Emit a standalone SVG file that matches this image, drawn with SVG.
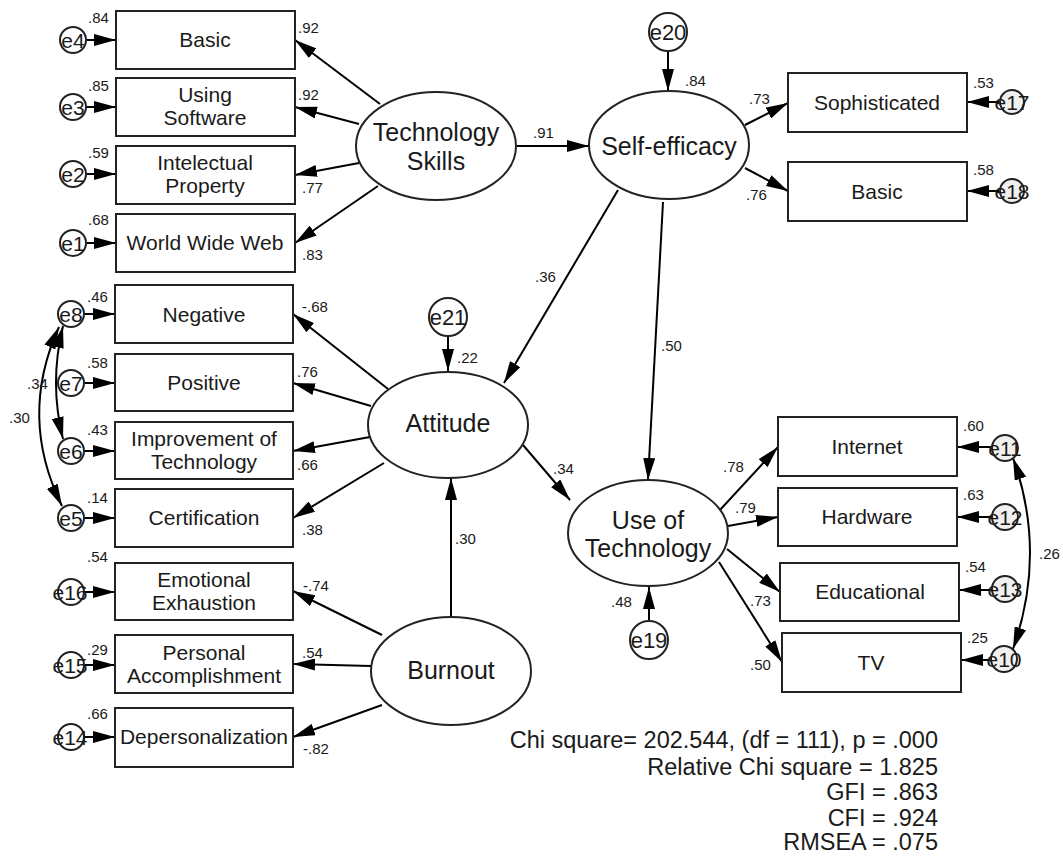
<svg xmlns="http://www.w3.org/2000/svg" width="1063" height="856" viewBox="0 0 1063 856">
<defs>
<marker id="ah" viewBox="0 0 22 12" refX="22" refY="6" markerWidth="22" markerHeight="12" orient="auto-start-reverse" markerUnits="userSpaceOnUse"><path d="M0,0 L22,6 L0,12 z" fill="#000"/></marker>
<style>
.box{fill:#fff;stroke:#222;stroke-width:2}
.lat{fill:#fff;stroke:#222;stroke-width:2}
.err{fill:#fff;stroke:#222;stroke-width:2}
.err2{fill:#f0f0f0;stroke:#222;stroke-width:2}
.c{fill:none;stroke:#000;stroke-width:2;marker-end:url(#ah)}
.cv{fill:none;stroke:#000;stroke-width:2;marker-end:url(#ah);marker-start:url(#ah)}
text{font-family:"Liberation Sans",Arial,sans-serif;fill:#1a1a1a}
.bt{font-size:21px;text-anchor:middle}
.lt{font-size:25px;text-anchor:middle}
.et{font-size:21px;text-anchor:middle}
.eb{font-size:22px;text-anchor:middle}
.n{font-size:15px}
.fit{font-size:23.5px;text-anchor:end}
</style>
</defs>
<rect width="1063" height="856" fill="#fff"/>
<g id="connectors">
<line class="c" x1="86" y1="40" x2="116" y2="40"/>
<line class="c" x1="86" y1="107" x2="116" y2="107"/>
<line class="c" x1="86" y1="174" x2="116" y2="174"/>
<line class="c" x1="86" y1="243" x2="116" y2="243"/>
<line class="c" x1="84" y1="314" x2="115" y2="314"/>
<line class="c" x1="84" y1="383" x2="115" y2="383"/>
<line class="c" x1="84" y1="451" x2="115" y2="451"/>
<line class="c" x1="84" y1="518" x2="115" y2="518"/>
<line class="c" x1="84" y1="592" x2="115" y2="592"/>
<line class="c" x1="84" y1="665" x2="115" y2="665"/>
<line class="c" x1="84" y1="737" x2="115" y2="737"/>
<line class="c" x1="999" y1="102" x2="967" y2="102"/>
<line class="c" x1="999" y1="191" x2="967" y2="191"/>
<line class="c" x1="992" y1="447" x2="957" y2="447"/>
<line class="c" x1="992" y1="517" x2="957" y2="517"/>
<line class="c" x1="992" y1="590" x2="959" y2="590"/>
<line class="c" x1="992" y1="660" x2="961" y2="660"/>
<line class="c" x1="668" y1="51" x2="668" y2="91"/>
<line class="c" x1="448" y1="336" x2="448" y2="371"/>
<line class="c" x1="649" y1="621" x2="649" y2="587"/>
<line class="c" x1="380" y1="104" x2="295" y2="40"/>
<line class="c" x1="359" y1="124" x2="295" y2="107"/>
<line class="c" x1="359" y1="163" x2="295" y2="175"/>
<line class="c" x1="378" y1="186" x2="295" y2="243"/>
<line class="c" x1="388" y1="389" x2="293" y2="314"/>
<line class="c" x1="371" y1="406" x2="293" y2="383"/>
<line class="c" x1="370" y1="437" x2="293" y2="451"/>
<line class="c" x1="384" y1="463" x2="293" y2="518"/>
<line class="c" x1="382" y1="635" x2="293" y2="591"/>
<line class="c" x1="371" y1="666" x2="293" y2="664"/>
<line class="c" x1="382" y1="705" x2="293" y2="737"/>
<line class="c" x1="517" y1="146" x2="589" y2="146"/>
<line class="c" x1="618" y1="190" x2="504" y2="383"/>
<line class="c" x1="663" y1="202" x2="648" y2="480"/>
<line class="c" x1="523" y1="445" x2="570" y2="500"/>
<line class="c" x1="451" y1="617" x2="451" y2="478"/>
<line class="c" x1="745" y1="125" x2="788" y2="103"/>
<line class="c" x1="745" y1="168" x2="788" y2="191"/>
<line class="c" x1="720" y1="510" x2="778" y2="447"/>
<line class="c" x1="728" y1="526" x2="778" y2="517"/>
<line class="c" x1="727" y1="549" x2="780" y2="592"/>
<line class="c" x1="719" y1="562" x2="782" y2="662"/>
<path class="cv" d="M63,326 Q49,383 63,439"/>
<path class="cv" d="M59,327 Q18,417 62,506"/>
<path class="cv" d="M1013,458 Q1047,553 1013,649"/>
</g>
<g id="e4"><circle class="err" cx="73" cy="40" r="13"/><text class="et" x="73" y="48">e4</text></g>
<g id="e3"><circle class="err" cx="73" cy="107" r="13"/><text class="et" x="73" y="115">e3</text></g>
<g id="e2"><circle class="err" cx="73" cy="174" r="13"/><text class="et" x="73" y="182">e2</text></g>
<g id="e1"><circle class="err" cx="73" cy="243" r="13"/><text class="et" x="73" y="251">e1</text></g>
<g id="e8"><circle class="err" cx="71" cy="314" r="13"/><text class="et" x="71" y="322">e8</text></g>
<g id="e7"><circle class="err" cx="71" cy="383" r="13"/><text class="et" x="71" y="391">e7</text></g>
<g id="e6"><circle class="err" cx="71" cy="451" r="13"/><text class="et" x="71" y="459">e6</text></g>
<g id="e5"><circle class="err" cx="71" cy="518" r="13"/><text class="et" x="71" y="526">e5</text></g>
<g id="e16"><circle class="err" cx="71" cy="592" r="13"/><text class="et" x="70" y="600">e16</text></g>
<g id="e15"><circle class="err" cx="71" cy="665" r="13"/><text class="et" x="70" y="673">e15</text></g>
<g id="e14"><circle class="err" cx="71" cy="737" r="13"/><text class="et" x="70" y="745">e14</text></g>
<g id="e17"><circle class="err2" cx="1012" cy="102" r="12"/><text class="et" x="1012" y="110">e17</text></g>
<g id="e18"><circle class="err2" cx="1012" cy="191" r="12"/><text class="et" x="1012" y="199">e18</text></g>
<g id="e11"><circle class="err2" cx="1005" cy="448" r="13"/><text class="et" x="1005" y="456">e11</text></g>
<g id="e12"><circle class="err2" cx="1005" cy="517" r="13"/><text class="et" x="1005" y="525">e12</text></g>
<g id="e13"><circle class="err2" cx="1005" cy="589" r="13"/><text class="et" x="1005" y="597">e13</text></g>
<g id="e10"><circle class="err2" cx="1004" cy="659" r="13"/><text class="et" x="1004" y="667">e10</text></g>
<g id="e20"><circle class="err" cx="668" cy="32" r="19"/><text class="eb" x="668" y="40">e20</text></g>
<g id="e21"><circle class="err" cx="448" cy="317" r="19"/><text class="eb" x="448" y="325">e21</text></g>
<g id="e19"><circle class="err" cx="649" cy="640" r="19"/><text class="eb" x="649" y="648">e19</text></g>

<g id="ts_basic"><rect class="box" x="116" y="11" width="179" height="58"/><text class="bt" x="205" y="47">Basic</text></g>
<g id="ts_software"><rect class="box" x="116" y="78" width="179" height="58"/><text class="bt" x="205" y="102">Using</text><text class="bt" x="205" y="125">Software</text></g>
<g id="ts_ip"><rect class="box" x="116" y="146" width="179" height="58"/><text class="bt" x="205" y="170">Intelectual</text><text class="bt" x="205" y="193">Property</text></g>
<g id="ts_www"><rect class="box" x="116" y="214" width="179" height="58"/><text class="bt" x="205" y="250">World Wide Web</text></g>

<g id="at_neg"><rect class="box" x="115" y="285" width="178" height="58"/><text class="bt" x="204" y="322">Negative</text></g>
<g id="at_pos"><rect class="box" x="115" y="354" width="178" height="57"/><text class="bt" x="204" y="390">Positive</text></g>
<g id="at_imp"><rect class="box" x="115" y="422" width="178" height="57"/><text class="bt" x="204" y="446">Improvement of</text><text class="bt" x="204" y="469">Technology</text></g>
<g id="at_cert"><rect class="box" x="115" y="489" width="178" height="58"/><text class="bt" x="204" y="525">Certification</text></g>

<g id="bo_ee"><rect class="box" x="115" y="563" width="178" height="57"/><text class="bt" x="204" y="587">Emotional</text><text class="bt" x="204" y="610">Exhaustion</text></g>
<g id="bo_pa"><rect class="box" x="115" y="635" width="178" height="58"/><text class="bt" x="204" y="660">Personal</text><text class="bt" x="204" y="683">Accomplishment</text></g>
<g id="bo_dp"><rect class="box" x="115" y="708" width="178" height="59"/><text class="bt" x="204" y="744">Depersonalization</text></g>

<g id="se_soph"><rect class="box" x="788" y="73" width="179" height="59"/><text class="bt" x="877" y="110">Sophisticated</text></g>
<g id="se_basic"><rect class="box" x="788" y="162" width="179" height="59"/><text class="bt" x="877" y="199">Basic</text></g>

<g id="ut_internet"><rect class="box" x="778" y="417" width="179" height="59"/><text class="bt" x="867" y="454">Internet</text></g>
<g id="ut_hardware"><rect class="box" x="778" y="488" width="179" height="58"/><text class="bt" x="867" y="524">Hardware</text></g>
<g id="ut_edu"><rect class="box" x="780" y="563" width="179" height="58"/><text class="bt" x="870" y="599">Educational</text></g>
<g id="ut_tv"><rect class="box" x="782" y="633" width="179" height="59"/><text class="bt" x="871" y="670">TV</text></g>

<g id="tech_skills"><ellipse class="lat" cx="436" cy="146" rx="80" ry="54"/><text class="lt" x="436" y="141">Technology</text><text class="lt" x="436" y="170">Skills</text></g>
<g id="self_efficacy"><ellipse class="lat" cx="669" cy="145" rx="80" ry="54"/><text class="lt" x="669" y="155">Self-efficacy</text></g>
<g id="attitude"><ellipse class="lat" cx="448" cy="425" rx="80" ry="53"/><text class="lt" x="448" y="432">Attitude</text></g>
<g id="use_tech"><ellipse class="lat" cx="648" cy="533" rx="80" ry="53"/><text class="lt" x="648" y="529">Use of</text><text class="lt" x="648" y="557">Technology</text></g>
<g id="burnout"><ellipse class="lat" cx="451" cy="671" rx="80" ry="54"/><text class="lt" x="451" y="679">Burnout</text></g>

<g id="labels">
<text class="n" x="88" y="23">.84</text><text class="n" x="298" y="33">.92</text>
<text class="n" x="88" y="91">.85</text><text class="n" x="298" y="100">.92</text>
<text class="n" x="88" y="158">.59</text><text class="n" x="302" y="193">.77</text>
<text class="n" x="88" y="225">.68</text><text class="n" x="302" y="260">.83</text>
<text class="n" x="87" y="302">.46</text><text class="n" x="302" y="312">-.68</text>
<text class="n" x="87" y="368">.58</text><text class="n" x="297" y="377">.76</text>
<text class="n" x="87" y="435">.43</text><text class="n" x="297" y="470">.66</text>
<text class="n" x="87" y="503">.14</text><text class="n" x="302" y="535">.38</text>
<text class="n" x="27" y="389">.34</text><text class="n" x="9" y="423">.30</text>
<text class="n" x="87" y="562">.54</text><text class="n" x="303" y="591">-.74</text>
<text class="n" x="87" y="655">.29</text><text class="n" x="302" y="658">.54</text>
<text class="n" x="87" y="719">.66</text><text class="n" x="303" y="754">-.82</text>
<text class="n" x="533" y="138">.91</text><text class="n" x="685" y="86">.84</text>
<text class="n" x="749" y="104">.73</text><text class="n" x="746" y="200">.76</text>
<text class="n" x="973" y="88">.53</text><text class="n" x="973" y="175">.58</text>
<text class="n" x="535" y="282">.36</text><text class="n" x="661" y="351">.50</text>
<text class="n" x="457" y="363">.22</text><text class="n" x="553" y="474">.34</text>
<text class="n" x="455" y="544">.30</text>
<text class="n" x="723" y="472">.78</text><text class="n" x="735" y="513">.79</text>
<text class="n" x="750" y="606">.73</text><text class="n" x="750" y="670">.50</text>
<text class="n" x="611" y="607">.48</text>
<text class="n" x="963" y="431">.60</text><text class="n" x="963" y="500">.63</text>
<text class="n" x="965" y="572">.54</text><text class="n" x="967" y="643">.25</text>
<text class="n" x="1039" y="559">.26</text>
</g>
<g id="fit">
<text class="fit" x="938" y="748">Chi square= 202.544, (df = 111), p = .000</text>
<text class="fit" x="938" y="775">Relative Chi square = 1.825</text>
<text class="fit" x="938" y="800">GFI = .863</text>
<text class="fit" x="938" y="826">CFI = .924</text>
<text class="fit" x="938" y="850">RMSEA = .075</text>
</g>
</svg>
